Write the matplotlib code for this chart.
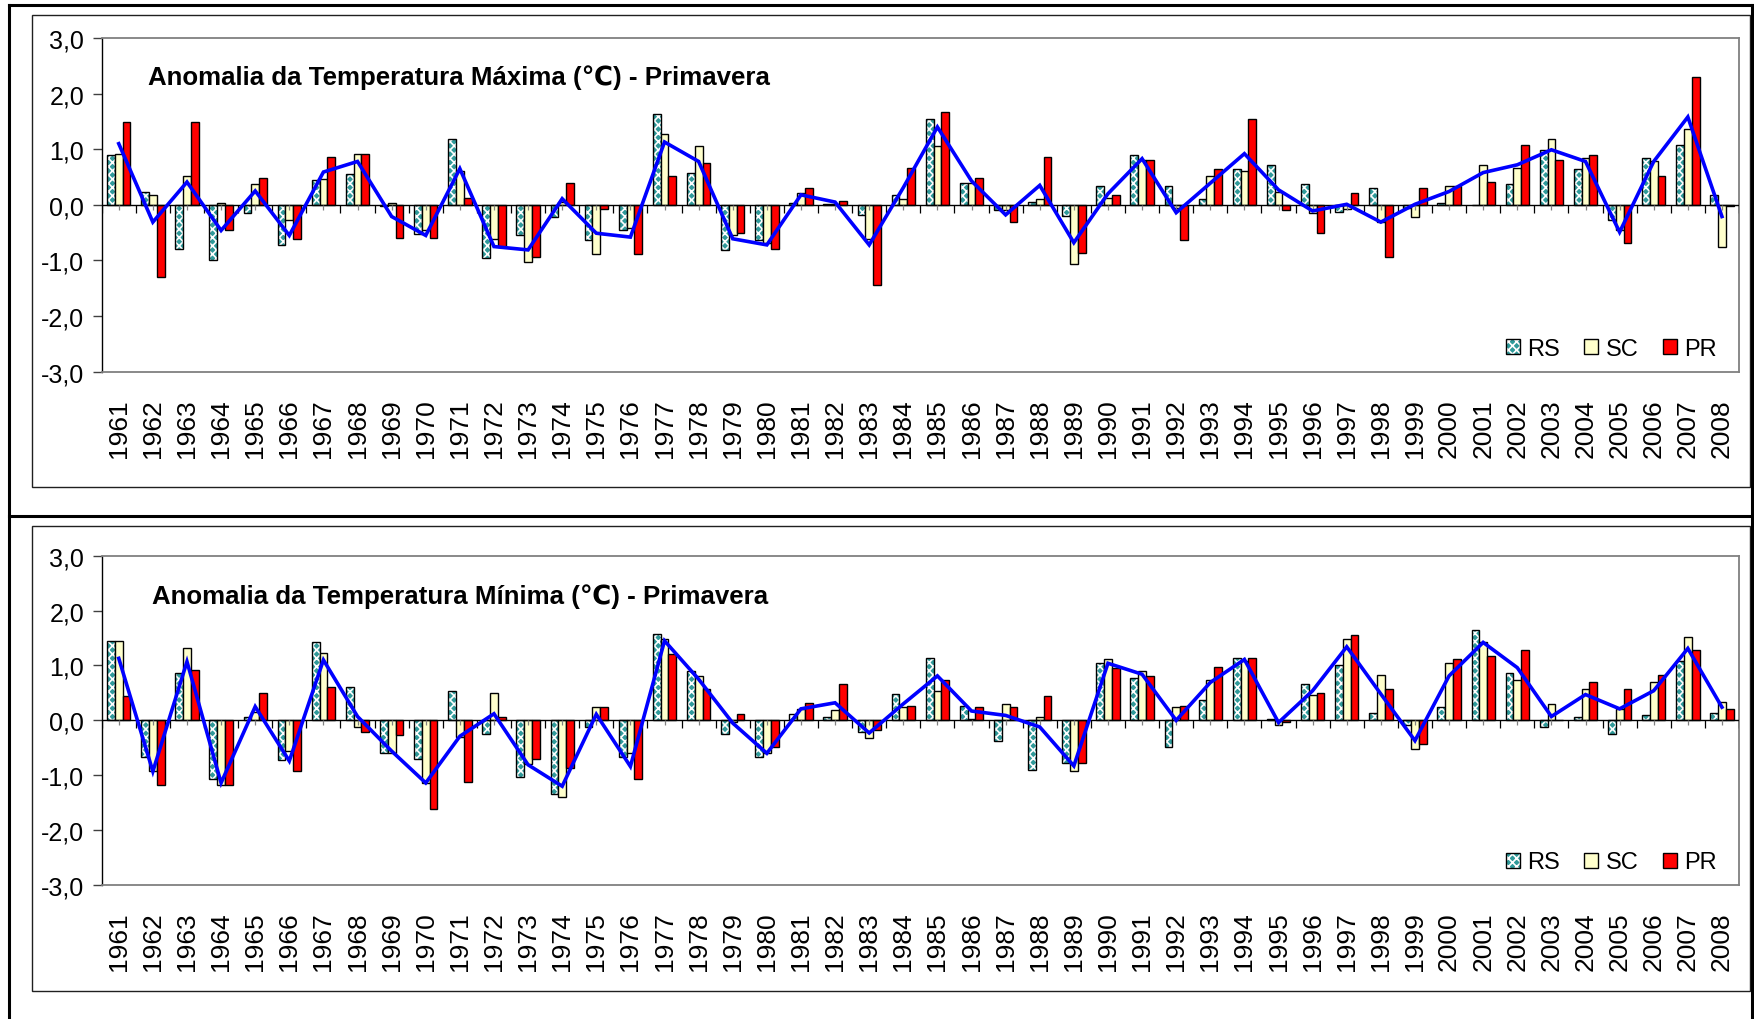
"""
Anomalias de temperatura (máxima / mínima) na primavera, RS / SC / PR, 1961-2008.
Two stacked Excel-style bar charts with a regional mean line.
"""

import matplotlib
matplotlib.use("Agg")
import matplotlib.pyplot as plt
import numpy as np
from matplotlib.lines import Line2D
from matplotlib.patches import Patch, Rectangle

plt.rcParams["font.family"] = ["Liberation Sans", "DejaVu Sans"]
plt.rcParams["hatch.linewidth"] = 1.2

# ── Data ──────────────────────────────────────────────────────────────────────
YEARS = list(range(1961, 2009))

RS_MAX = [0.89, 0.24, -0.79, -0.99, -0.14, -0.72, 0.44, 0.55, -0.02, -0.52,
          1.19, -0.96, -0.54, -0.21, -0.64, -0.45, 1.64, 0.58, -0.82, -0.64,
          0.04, 0.02, -0.18, 0.17, 1.54, 0.40, -0.10, 0.06, -0.20, 0.34,
          0.89, 0.34, 0.10, 0.65, 0.72, 0.37, -0.13, 0.31, -0.06, 0.03,
          0.00, 0.37, 0.99, 0.64, -0.28, 0.84, 1.08, 0.17]
SC_MAX = [0.92, 0.17, 0.51, 0.04, 0.37, -0.27, 0.47, 0.92, 0.04, -0.45,
          0.61, -0.62, -1.02, 0.05, -0.89, -0.41, 1.27, 1.06, -0.55, -0.68,
          0.21, 0.02, -0.62, 0.10, 1.06, 0.40, -0.09, 0.10, -1.06, 0.12,
          0.81, -0.06, 0.51, 0.61, 0.24, -0.15, -0.08, -0.30, -0.21, 0.34,
          0.72, 0.67, 1.19, 0.84, -0.45, 0.78, 1.36, -0.75]
PR_MAX = [1.49, -1.30, 1.49, -0.45, 0.48, -0.62, 0.86, 0.92, -0.59, -0.59,
          0.13, -0.75, -0.93, 0.40, -0.07, -0.89, 0.51, 0.75, -0.51, -0.79,
          0.31, 0.07, -1.45, 0.67, 1.67, 0.48, -0.30, 0.86, -0.86, 0.17,
          0.81, -0.64, 0.65, 1.54, -0.10, -0.51, 0.21, -0.93, 0.31, 0.34,
          0.41, 1.08, 0.81, 0.89, -0.68, 0.51, 2.29, -0.02]
MEAN_MAX = [1.10, -0.31, 0.41, -0.46, 0.25, -0.55, 0.59, 0.78, -0.21, -0.55,
            0.65, -0.75, -0.81, 0.11, -0.51, -0.58, 1.13, 0.78, -0.61, -0.72,
            0.18, 0.05, -0.72, 0.31, 1.40, 0.43, -0.18, 0.35, -0.68, 0.20,
            0.83, -0.14, 0.39, 0.92, 0.27, -0.11, 0.01, -0.31, 0.01, 0.24,
            0.58, 0.72, 0.99, 0.78, -0.49, 0.78, 1.58, -0.21]

RS_MIN = [1.45, -0.67, 0.87, -1.07, 0.07, -0.73, 1.42, 0.61, -0.60, -0.70,
          0.54, -0.24, -1.04, -1.34, -0.13, -0.67, 1.58, 0.90, -0.24, -0.67,
          0.11, 0.07, -0.21, 0.48, 1.14, 0.27, -0.37, -0.90, -0.77, 1.04,
          0.77, -0.49, 0.37, 1.14, 0.03, 0.67, 1.01, 0.13, -0.09, 0.24,
          1.64, 0.87, -0.13, 0.07, -0.24, 0.10, 1.08, 0.14]
SC_MIN = [1.45, -0.93, 1.31, -1.17, 0.15, -0.56, 1.22, -0.13, -0.60, -1.14,
          -0.30, 0.50, -0.80, -1.40, 0.24, -0.60, 1.48, 0.81, -0.03, -0.60,
          0.21, 0.18, -0.33, 0.24, 0.54, 0.03, 0.30, 0.07, -0.93, 1.11,
          0.90, 0.24, 0.74, 1.08, -0.09, 0.47, 1.48, 0.83, -0.53, 1.04,
          1.42, 0.74, 0.30, 0.57, 0.21, 0.70, 1.51, 0.34]
PR_MIN = [0.44, -1.17, 0.92, -1.17, 0.50, -0.93, 0.61, -0.21, -0.27, -1.61,
          -1.13, 0.07, -0.70, -0.87, 0.24, -1.07, 1.20, 0.57, 0.11, -0.49,
          0.31, 0.67, -0.17, 0.27, 0.74, 0.24, 0.24, 0.44, -0.77, 0.95,
          0.81, 0.27, 0.98, 1.14, -0.03, 0.50, 1.55, 0.57, -0.43, 1.11,
          1.17, 1.28, 0.00, 0.70, 0.57, 0.83, 1.28, 0.20]
MEAN_MIN = [1.13, -0.93, 1.07, -1.14, 0.25, -0.74, 1.10, 0.07, -0.56, -1.14,
            -0.29, 0.12, -0.81, -1.20, 0.11, -0.84, 1.45, 0.75, -0.05, -0.60,
            0.21, 0.32, -0.23, 0.30, 0.81, 0.17, 0.09, -0.12, -0.83, 1.04,
            0.84, 0.00, 0.69, 1.11, -0.04, 0.54, 1.34, 0.48, -0.37, 0.81,
            1.42, 0.96, 0.07, 0.47, 0.21, 0.54, 1.31, 0.24]

TITLE_MAX = "Anomalia da Temperatura Máxima (℃) - Primavera"
TITLE_MIN = "Anomalia da Temperatura Mínima (℃) - Primavera"

# ── Styles ────────────────────────────────────────────────────────────────────
TEAL = "#2f9a9a"
CREAM = "#ffffcc"
RED = "#ff0000"
BLUE = "#0000ff"
GRAY = "#808080"

W, H = 1754, 1020
BAR_W = 0.228


def fx(px):
    return px / W


def fy(px):
    return 1 - px / H


def draw_panel(ax, rs, sc, pr, mean, title, title_xy):
    x = np.arange(len(YEARS))

    # bars: RS hatched teal, SC cream, PR red, all with black outlines
    ax.bar(x - BAR_W, rs, BAR_W, color=TEAL, edgecolor="white",
           hatch="xxxx", linewidth=0, zorder=2)
    ax.bar(x - BAR_W, rs, BAR_W, facecolor="none", edgecolor="black",
           linewidth=1.0, zorder=3)
    ax.bar(x, sc, BAR_W, color=CREAM, edgecolor="black", linewidth=1.0, zorder=3)
    ax.bar(x + BAR_W, pr, BAR_W, color=RED, edgecolor="black", linewidth=1.0, zorder=3)

    # zero line with category ticks
    ax.axhline(0, color="black", lw=1.0, zorder=4)
    bounds = np.arange(len(YEARS) + 1) - 0.5
    ax.vlines(bounds, -0.14, 0, color="black", lw=0.9, zorder=4)
    ax.vlines(x, -0.09, 0, color=GRAY, lw=0.9, zorder=4)

    ax.plot(x, mean, color=BLUE, lw=2.6, zorder=5, solid_joinstyle="miter")

    ax.set_xlim(-0.5, len(YEARS) - 0.5)
    ax.set_ylim(-3, 3)
    ax.set_yticks(np.arange(-3, 4, 1))
    ax.set_yticklabels([f"{v:.1f}".replace(".", ",") for v in np.arange(-3, 4, 1)])
    ax.set_xticks(x)
    ax.set_xticklabels([str(y) for y in YEARS], rotation=90, va="top", ha="center")
    ax.tick_params(axis="x", length=0, pad=19, labelsize=19)
    ax.tick_params(axis="y", length=6.5, width=1, color="#404040", labelsize=18, pad=6)

    for side in ("top", "right", "bottom"):
        ax.spines[side].set_color(GRAY)
        ax.spines[side].set_linewidth(1.3)
    ax.spines["left"].set_color("black")
    ax.spines["left"].set_linewidth(1.0)

    ax.text(title_xy[0], title_xy[1], title, transform=ax.transAxes,
            fontsize=18.6, fontweight="bold", ha="left", va="center", zorder=6)

    handles = [
        (Patch(facecolor=TEAL, edgecolor="white", hatch="xxxx", linewidth=0),
         Patch(facecolor="none", edgecolor="black", linewidth=1.0)),
        Patch(facecolor=CREAM, edgecolor="black", linewidth=1.0),
        Patch(facecolor=RED, edgecolor="black", linewidth=1.0),
    ]
    ax.legend(handles, ["RS", "SC", "PR"], ncol=3, frameon=False, fontsize=17,
              loc="lower right", bbox_to_anchor=(1 - 22 / 1637, 0.035),
              borderaxespad=0, borderpad=0, handlelength=0.6, handleheight=0.6,
              handletextpad=0.3, columnspacing=1.05)


# ── Figure ────────────────────────────────────────────────────────────────────
fig = plt.figure(figsize=(W / 100, H / 100), dpi=100)

# chart-area boxes and the outer frame
for top, bot in ((16, 488), (527, 992)):
    fig.add_artist(Rectangle((fx(32), fy(bot)), fx(1750 - 32), (bot - top) / H,
                             transform=fig.transFigure, fill=False,
                             edgecolor="#202020", lw=1.0))
frame_kw = dict(transform=fig.transFigure, color="black", lw=2.2)
fig.add_artist(Line2D([fx(9), fx(1752)], [fy(6), fy(6)], **frame_kw))
fig.add_artist(Line2D([fx(9), fx(9)], [fy(6), 0], **frame_kw))
fig.add_artist(Line2D([fx(1752), fx(1752)], [fy(6), 0], **frame_kw))
fig.add_artist(Line2D([fx(9), fx(1752)], [fy(517), fy(517)], **frame_kw))

ax_top = fig.add_axes([fx(101.7), fy(372.7), fx(1739 - 101.7), (372.7 - 39) / H])
ax_bot = fig.add_axes([fx(101.7), fy(886), fx(1739 - 101.7), (886 - 556.7) / H])

draw_panel(ax_top, RS_MAX, SC_MAX, PR_MAX, MEAN_MAX, TITLE_MAX, (0.0283, 0.883))
draw_panel(ax_bot, RS_MIN, SC_MIN, PR_MIN, MEAN_MIN, TITLE_MIN, (0.0307, 0.878))

fig.savefig("out.png", dpi=100)
